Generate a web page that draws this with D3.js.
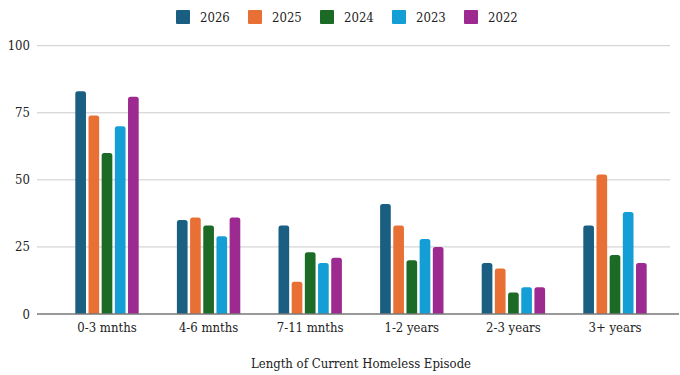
<!DOCTYPE html>
<html>
<head>
<meta charset="utf-8">
<script src="https://cdn.jsdelivr.net/npm/d3@7/dist/d3.min.js"></script>
<style>
  html, body { margin: 0; padding: 0; background: #fff; }
  svg { display: block; }
</style>
</head>
<body>
<svg id="chart" width="680" height="375"></svg>
<script>
// Episode length categories along the x axis
const categories = ["0-3 mnths", "4-6 mnths", "7-11 mnths", "1-2 years", "2-3 years", "3+ years"];
// Series (years) in legend order
const years = ["2026", "2025", "2024", "2023", "2022"];
const colors = ["#1a5f82", "#e97034", "#1b6a25", "#149ed6", "#9d2a91"];
// Values per year, one per category
const values2026 = [83, 35, 33, 41, 19, 33];
const values2025 = [74, 36, 12, 33, 17, 52];
const values2024 = [60, 33, 23, 20, 8, 22];
const values2023 = [70, 29, 19, 28, 10, 38];
const values2022 = [81, 36, 21, 25, 10, 19];
const yTicks = [0, 25, 50, 75, 100];
const xTitle = "Length of Current Homeless Episode";

const seriesValues = [values2026, values2025, values2024, values2023, values2022];
const fontStack = "'DejaVu Serif Condensed', 'DejaVu Serif', serif";
const fontSize = 13;

const svg = d3.select("#chart").style("font-family", fontStack);
const gridLeft = 37, gridRight = 670;
const plotTop = 45.7, plotBottom = 314;

const y = d3.scaleLinear().domain([0, 100]).range([plotBottom, plotTop]);
const x0 = d3.scaleBand().domain(categories).range([56, 666]).paddingInner(0.376).paddingOuter(0.19);
const x1 = d3.scaleBand().domain(years).range([0, x0.bandwidth()]).paddingInner(0.19).paddingOuter(0);
const color = d3.scaleOrdinal().domain(years).range(colors);

// Horizontal gridlines and y tick labels
const yAxis = svg.append("g");
yAxis.selectAll("line.grid")
  .data(yTicks.filter(d => d !== 0))
  .join("line")
  .attr("class", "grid")
  .attr("x1", gridLeft).attr("x2", gridRight)
  .attr("y1", d => y(d)).attr("y2", d => y(d))
  .attr("stroke", "#cccccc").attr("stroke-width", 1);
yAxis.selectAll("text")
  .data(yTicks)
  .join("text")
  .attr("x", 30)
  .attr("y", d => y(d))
  .attr("dy", "0.35em")
  .attr("text-anchor", "end")
  .style("font-family", fontStack)
  .attr("font-size", fontSize)
  .attr("fill", "#222")
  .text(d => d);

// Bars with slightly rounded tops
function barPath(x, yTop, w, h, r) {
  r = Math.min(r, w / 2, h);
  return `M${x},${yTop + h}V${yTop + r}Q${x},${yTop} ${x + r},${yTop}H${x + w - r}Q${x + w},${yTop} ${x + w},${yTop + r}V${yTop + h}Z`;
}

const rows = [];
categories.forEach((c, i) => {
  years.forEach((yr, j) => rows.push({ cat: c, year: yr, value: seriesValues[j][i] }));
});

svg.append("g")
  .selectAll("path")
  .data(rows)
  .join("path")
  .attr("fill", d => color(d.year))
  .attr("d", d => {
    const bx = x0(d.cat) + x1(d.year);
    const by = y(d.value);
    return barPath(bx, by, x1.bandwidth(), plotBottom - by, 2.5);
  });

// Baseline
svg.append("line")
  .attr("x1", gridLeft).attr("x2", 679)
  .attr("y1", y(0)).attr("y2", y(0))
  .attr("stroke", "#777").attr("stroke-width", 1.5);

// Category labels
svg.append("g")
  .selectAll("text")
  .data(categories)
  .join("text")
  .attr("x", d => x0(d) + x0.bandwidth() / 2)
  .attr("y", 332)
  .attr("text-anchor", "middle")
  .style("font-family", fontStack)
  .attr("font-size", fontSize)
  .attr("fill", "#222")
  .text(d => d);

// Axis title
svg.append("text")
  .attr("x", (x0.range()[0] + x0.range()[1]) / 2)
  .attr("y", 368)
  .attr("text-anchor", "middle")
  .style("font-family", fontStack)
  .attr("font-size", fontSize)
  .attr("fill", "#222")
  .text(xTitle);

// Legend
const legend = svg.append("g")
  .selectAll("g")
  .data(years)
  .join("g")
  .attr("transform", (d, i) => `translate(${176 + i * 72},10)`);
legend.append("rect")
  .attr("width", 14).attr("height", 14).attr("rx", 1)
  .attr("fill", d => color(d));
legend.append("text")
  .attr("x", 24).attr("y", 12)
  .style("font-family", fontStack)
  .attr("font-size", fontSize)
  .attr("fill", "#222")
  .text(d => d);
</script>
</body>
</html>
